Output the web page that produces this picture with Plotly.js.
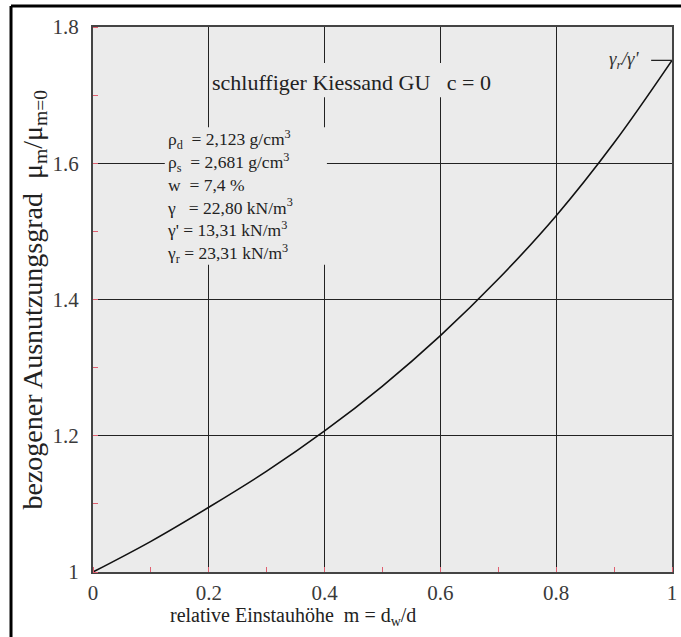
<!DOCTYPE html>
<html>
<head>
<meta charset="utf-8">
<script src="https://cdn.plot.ly/plotly-3.0.1.min.js"></script>
<style>html,body{margin:0;padding:0;background:#fff;}#chart{width:681px;height:637px;}</style>
</head>
<body>
<div id="chart"></div>
<script>
// Data
const mValues = [0, 0.1, 0.2, 0.3, 0.4, 0.5, 0.6, 0.7, 0.8, 0.9, 1.0];
const ratioValues = [1.000, 1.045, 1.095, 1.148, 1.207, 1.273, 1.347, 1.430, 1.523, 1.630, 1.751];
const xTickVals = [0, 0.2, 0.4, 0.6, 0.8, 1];
const xTickText = ['0', '0.2', '0.4', '0.6', '0.8', '1'];
const yTickVals = [1, 1.2, 1.4, 1.6, 1.8];
const yTickText = ['1', '1.2', '1.4', '1.6', '1.8'];
const paramLines = [
  'ρ<sub>d</sub>\u00A0\u00A0= 2,123 g/cm<sup>3</sup>',
  'ρ<sub>s</sub>\u00A0\u00A0= 2,681 g/cm<sup>3</sup>',
  'w\u00A0\u00A0= 7,4 %',
  'γ\u00A0\u00A0\u00A0= 22,80 kN/m<sup>3</sup>',
  "γ' = 13,31 kN/m<sup>3</sup>",
  'γ<sub>r</sub> = 23,31 kN/m<sup>3</sup>'
];
const titleText = 'schluffiger Kiessand GU\u00A0\u00A0\u00A0c = 0';
const endLabel = "γ<sub>r</sub>/γ'";

const serif = '"Liberation Serif", "DejaVu Serif", serif';
const lastY = ratioValues[ratioValues.length - 1];
const lastX = mValues[mValues.length - 1];

const trace = {
  x: mValues, y: ratioValues, type: 'scatter', mode: 'lines',
  line: {color: '#111', width: 1.6, shape: 'spline'}, hoverinfo: 'skip'
};

const annotations = [
  {xref: 'x', yref: 'y', x: 0.447, y: 1.719, text: titleText, showarrow: false,
   font: {family: serif, size: 22, color: '#222'}},
  {xref: 'x', yref: 'y', x: 0.124, y: 1.551, xanchor: 'left', yanchor: 'middle', align: 'left',
   text: paramLines.join('<br>'), showarrow: false,
   font: {family: serif, size: 17.5, color: '#222'}},
  {xref: 'x', yref: 'y', x: 0.946, y: lastY, xanchor: 'right', yanchor: 'middle',
   text: '<i>' + endLabel + '</i>', showarrow: false,
   font: {family: serif, size: 19, color: '#333'}},
  {xref: 'paper', yref: 'paper', x: (293 - 93) / 579, y: (572 - 616) / 545, xanchor: 'center', yanchor: 'middle',
   text: 'relative Einstauhöhe\u00A0\u00A0m = d<sub>w</sub>/d', showarrow: false,
   font: {family: serif, size: 20, color: '#222'}},
  {xref: 'paper', yref: 'paper', x: (34 - 93) / 579, y: 0.5, xanchor: 'center', yanchor: 'middle',
   textangle: -90, text: 'bezogener Ausnutzungsgrad\u00A0\u00A0μ<sub>m</sub>/μ<sub>m=0</sub>', showarrow: false,
   font: {family: serif, size: 28, color: '#222'}}
];

const layout = {
  width: 681, height: 637,
  margin: {l: 93, r: 9, t: 27, b: 65},
  paper_bgcolor: '#ffffff',
  plot_bgcolor: '#ebebeb',
  showlegend: false,
  font: {family: serif, color: '#333', size: 19},
  xaxis: {
    range: [0, 1], tickvals: xTickVals, ticktext: xTickText,
    showgrid: true, gridcolor: '#222', gridwidth: 1.3,
    zeroline: false, showline: true, mirror: true, linecolor: '#444', linewidth: 2,
    ticks: '', ticklabelstandoff: 1,
    tickfont: {family: serif, size: 21, color: '#3a3a3a'},
    minor: {dtick: 0.1, ticks: 'inside', ticklen: 5, tickcolor: '#e06070', tickwidth: 1, showgrid: false}
  },
  yaxis: {
    range: [1, 1.8], tickvals: yTickVals, ticktext: yTickText,
    showgrid: true, gridcolor: '#222', gridwidth: 1.3,
    zeroline: false, showline: true, mirror: true, linecolor: '#444', linewidth: 2,
    ticks: '', ticklabelstandoff: 8,
    tickfont: {family: serif, size: 21, color: '#3a3a3a'},
    minor: {dtick: 0.1, ticks: 'inside', ticklen: 5, tickcolor: '#e06070', tickwidth: 1, showgrid: false}
  },
  shapes: [
    // outer frame (top and left)
    {type: 'line', xref: 'paper', yref: 'paper', x0: -0.1416, x1: 1.02, y0: 1.0385, y1: 1.0385,
     line: {color: '#000', width: 3}},
    {type: 'line', xref: 'paper', yref: 'paper', x0: -0.1416, x1: -0.1416, y0: 1.0385, y1: -0.2,
     line: {color: '#000', width: 3}},
    // background masks behind the texts
    {type: 'rect', xref: 'x', yref: 'y', x0: 0.204, x1: 0.694, y0: 1.697, y1: 1.747, layer: 'above',
     fillcolor: '#ebebeb', line: {width: 0}},
    {type: 'rect', xref: 'x', yref: 'y', x0: 0.124, x1: 0.404, y0: 1.451, y1: 1.653, layer: 'above',
     fillcolor: '#ebebeb', line: {width: 0}},
    // marker line for end value
    {type: 'line', xref: 'x', yref: 'y', x0: lastX - 0.036, x1: lastX, y0: lastY, y1: lastY,
     line: {color: '#222', width: 1.3}}
  ],
  annotations: annotations
};

Plotly.newPlot('chart', [trace], layout, {displayModeBar: false, staticPlot: true});
</script>
</body>
</html>
